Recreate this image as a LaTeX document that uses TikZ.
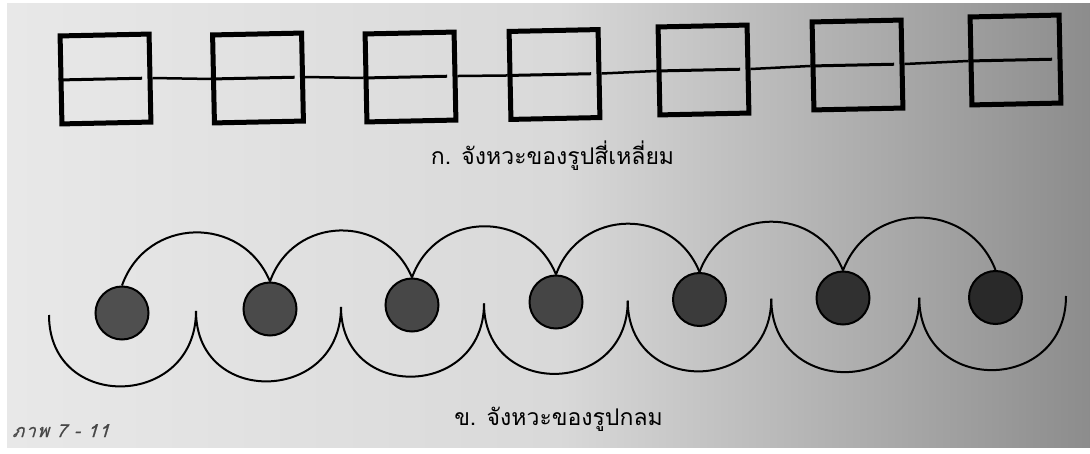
\documentclass[tikz,border=0pt]{standalone}
\usepackage{fontspec}
\newfontfamily\thaifont[Script=Thai]{Loma}
\newfontfamily\thaislant[Script=Thai,FakeSlant=0.3,FakeBold=0.6,LetterSpace=8]{Loma}
\usetikzlibrary{calc}
\definecolor{bgA}{gray}{0.91}
\definecolor{bgB}{gray}{0.85}
\definecolor{bgC}{gray}{0.55}
\begin{document}
\begin{tikzpicture}[x=1pt,y=1pt,
  sq/.style={draw=black, line width=5pt, minimum width=89pt, minimum height=88pt, inner sep=0pt, rotate=1.2},
  midline/.style={line width=3pt},
  link/.style={line width=2.5pt},
  dot/.style={circle, draw=black, line width=2pt, minimum size=53pt, inner sep=0pt},
  arcline/.style={line width=2pt},
  upper/.style={arcline, bend left=69, looseness=1.26},
  lower/.style={arcline, out=-90, in=-90, looseness=1.7},
  capt/.style={anchor=base, inner sep=0pt, font=\thaifont\fontsize{23}{27}\selectfont}
]
\useasboundingbox (0,0) rectangle (1090,453);
\fill[white] (0,0) rectangle (1090,453);
\shade[left color=bgA, right color=bgB] (7,6) rectangle (560,449);
\shade[left color=bgB, right color=bgC] (559.5,6) rectangle (1090,449);

% squares
\node[sq] (s1) at (105.5,374) {};
\node[sq] (s2) at (258,375) {};
\node[sq] (s3) at (410.5,376) {};
\node[sq] (s4) at (554.5,378.5) {};
\node[sq] (s5) at (703.5,383) {};
\node[sq] (s6) at (857.5,388) {};
\node[sq] (s7) at (1015.5,393) {};
\foreach \i in {1,...,7}{
  \draw[midline] (s\i.west) -- ($(s\i.west)!0.89!(s\i.east)$);
}
\foreach \i/\j in {1/2,2/3,3/4,4/5,5/6,6/7}{
  \draw[link] (s\i.east) -- (s\j.west);
}

% circles
\node[dot, fill=black!69] (c1) at (122,140) {};
\node[dot, fill=black!71] (c2) at (270,144) {};
\node[dot, fill=black!72] (c3) at (412,148) {};
\node[dot, fill=black!73] (c4) at (556,151) {};
\node[dot, fill=black!77] (c5) at (699.5,153.5) {};
\node[dot, fill=black!81] (c6) at (843,155) {};
\node[dot, fill=black!84] (c7) at (995.5,155.5) {};

\coordinate (k0) at (49,138);
\coordinate (k1) at ($(c1)!0.5!(c2)$);
\coordinate (k2) at ($(c2)!0.5!(c3)$);
\coordinate (k3) at ($(c3)!0.5!(c4)$);
\coordinate (k4) at ($(c4)!0.5!(c5)$);
\coordinate (k5) at ($(c5)!0.5!(c6)$);
\coordinate (k6) at ($(c6)!0.5!(c7)$);
\coordinate (k7) at (1066,157);

\foreach \i/\j in {0/1,1/2,2/3,3/4,4/5,5/6,6/7}{
  \draw[lower] (k\i) to (k\j);
}
\foreach \i/\j in {1/2,2/3,3/4,4/5,5/6,6/7}{
  \draw[upper] (c\i.north) to (c\j.north);
}

% captions
\node[capt] (t1) at (552.5,288) {ก. จังหวะของรูปสี่เหลี่ยม};
\node[capt] (t2) at (558.5,28) {ข. จังหวะของรูปกลม};
\node[anchor=base west, inner sep=0pt, text=black!72, font=\thaislant\fontsize{18}{20}\selectfont] (t3) at (12,16) {ภาพ 7 - 11};
\end{tikzpicture}
\end{document}
